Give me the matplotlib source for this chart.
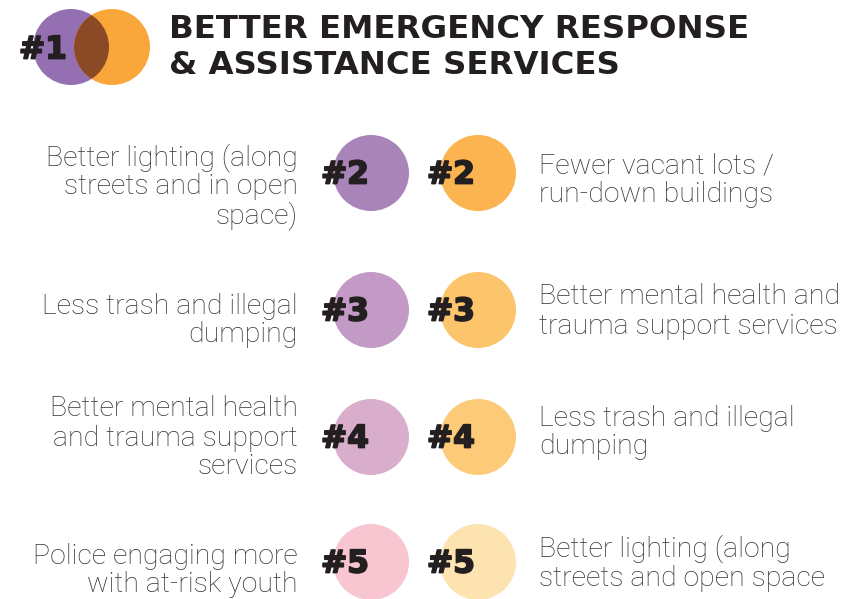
import matplotlib
matplotlib.use('Agg')
import matplotlib.pyplot as plt
import matplotlib.patheffects as pe
from matplotlib.patches import Circle

title_lines = ['BETTER EMERGENCY RESPONSE', '& ASSISTANCE SERVICES']
ranks = ['#2', '#3', '#4', '#5']
left_labels = [
    ['Better lighting (along', 'streets and in open', 'space)'],
    ['Less trash and illegal', 'dumping'],
    ['Better mental health', 'and trauma support', 'services'],
    ['Police engaging more', 'with at-risk youth'],
]
right_labels = [
    ['Fewer vacant lots /', 'run-down buildings'],
    ['Better mental health and', 'trauma support services'],
    ['Less trash and illegal', 'dumping'],
    ['Better lighting (along', 'streets and open space'],
]
left_colors = ['#A884B8', '#C39AC6', '#D9AECC', '#F8C6D0']
right_colors = ['#FBB44F', '#FCC46B', '#FDCA78', '#FDE3B0']

# layout (pixels)
row_y = [173, 310, 437, 562]
left_text_y = [158, 306, 409, 556]
right_text_y = [166, 297, 418, 549]
line_step = 29
r = 38

fig = plt.figure(figsize=(8.49, 5.99), dpi=100)
ax = fig.add_axes([0, 0, 1, 1])
ax.set_xlim(0, 849)
ax.set_ylim(599, 0)
ax.axis('off')

# heavier look for the rank numbers
heavy = [pe.withStroke(linewidth=1.3, foreground='#231F20')]
num_font = dict(family=['DejaVu Sans'], weight='bold', color='#231F20', fontsize=22.5,
                path_effects=heavy)
lab_font = dict(family=['Roboto', 'DejaVu Sans'], weight='light', color='#333333', fontsize=20.5)

# header: overlapping circles
ax.add_patch(Circle((71, 47), r, color='#9470B3', lw=0))
ax.add_patch(Circle((112, 47), r, color='#F9A73A', lw=0, zorder=1))
ax.add_patch(Circle((71, 47), r, color='#8B4A25', lw=0, zorder=2,
                    clip_path=Circle((112, 47), r, transform=ax.transData)))
ax.text(19, 50, '#1', ha='left', va='center', zorder=5, **num_font)
for i, line in enumerate(title_lines):
    ax.text(169, 38 + i * 36, line, fontsize=23.3, ha='left', va='baseline',
            family=['DejaVu Sans'], weight='bold', color='#231F20')

for i in range(len(ranks)):
    y = row_y[i]
    ax.add_patch(Circle((371, y), r, color=left_colors[i], lw=0))
    ax.add_patch(Circle((478, y), r, color=right_colors[i], lw=0))
    ax.text(321, y + 2, ranks[i], ha='left', va='center', zorder=5, **num_font)
    ax.text(427, y + 2, ranks[i], ha='left', va='center', zorder=5, **num_font)
    for j, line in enumerate(left_labels[i]):
        ax.text(298, left_text_y[i] + j * line_step, line, ha='right', va='center', **lab_font)
    for j, line in enumerate(right_labels[i]):
        ax.text(539, right_text_y[i] + j * line_step, line, ha='left', va='center', **lab_font)

fig.savefig('out.png', dpi=100)
